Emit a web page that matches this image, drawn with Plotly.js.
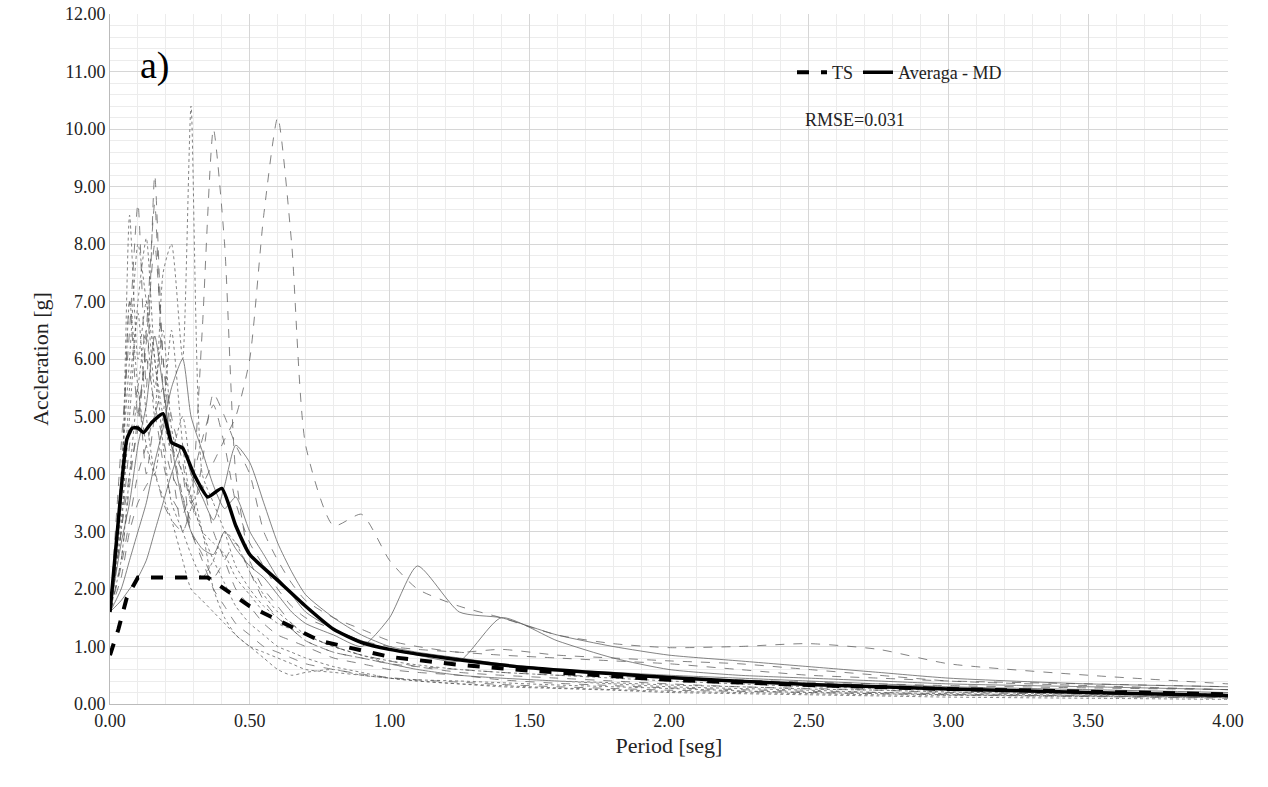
<!DOCTYPE html>
<html>
<head>
<meta charset="utf-8">
<script src="https://cdn.plot.ly/plotly-3.0.1.min.js"></script>
<style>body{margin:0;background:#fff}</style>
</head>
<body>
<div id="chart" style="width:1268px;height:787px"></div>
<script>
// shared period grid for the individual records
const recT = [0, 0.04, 0.07, 0.1, 0.13, 0.16, 0.19, 0.22, 0.26, 0.29, 0.33, 0.37, 0.41, 0.45, 0.5, 0.55, 0.6, 0.65, 0.7, 0.8, 0.9, 1.0, 1.1, 1.25, 1.4, 1.6, 1.8, 2.0, 2.25, 2.5, 2.75, 3.0, 3.5, 4.0];
const records = [
  [1.6, 3.5, 8.5, 6.0, 7.0, 5.5, 6.5, 4.8, 4.0, 3.6, 3.0, 2.8, 2.6, 2.2, 1.9, 1.6, 1.4, 1.3, 1.2, 1.0, 0.85, 0.7, 0.6, 0.5, 0.45, 0.4, 0.35, 0.3, 0.27, 0.24, 0.2, 0.18, 0.15, 0.12],
  [1.6, 4.5, 6.5, 8.7, 5.5, 9.2, 6.0, 5.0, 4.2, 3.5, 3.8, 3.0, 2.5, 2.0, 1.7, 1.4, 1.2, 1.1, 1.0, 0.8, 0.7, 0.6, 0.55, 0.5, 0.42, 0.36, 0.32, 0.28, 0.25, 0.22, 0.2, 0.17, 0.14, 0.11],
  [1.6, 2.5, 4.0, 5.5, 6.5, 5.0, 7.5, 8.0, 6.0, 10.4, 4.0, 3.5, 3.0, 2.4, 2.0, 1.7, 1.5, 1.3, 1.1, 0.9, 0.8, 0.7, 0.6, 0.5, 0.45, 0.4, 0.37, 0.33, 0.3, 0.26, 0.24, 0.21, 0.17, 0.13],
  [1.6, 3.0, 4.5, 5.5, 4.0, 5.0, 5.5, 4.2, 3.0, 3.5, 6.5, 10.0, 8.0, 4.0, 2.5, 2.0, 1.7, 1.4, 1.2, 1.0, 0.85, 0.75, 0.65, 0.55, 0.5, 0.45, 0.4, 0.35, 0.3, 0.27, 0.24, 0.2, 0.17, 0.14],
  [1.6, 2.2, 3.0, 3.5, 3.8, 4.0, 3.5, 3.2, 3.0, 3.4, 3.8, 4.2, 4.6, 5.0, 6.0, 8.5, 10.2, 8.0, 4.5, 3.1, 3.3, 2.5, 2.0, 1.7, 1.5, 1.2, 1.05, 0.98, 1.0, 1.05, 0.95, 0.7, 0.5, 0.35],
  [1.6, 3.2, 5.0, 7.0, 8.1, 6.0, 5.0, 4.4, 5.0, 4.0, 3.0, 2.5, 2.1, 1.7, 1.4, 1.2, 1.0, 0.9, 0.8, 0.65, 0.55, 0.45, 0.4, 0.35, 0.3, 0.27, 0.24, 0.2, 0.18, 0.16, 0.14, 0.12, 0.1, 0.08],
  [1.6, 3.8, 7.0, 5.0, 6.5, 8.7, 5.5, 4.5, 4.0, 3.0, 2.6, 2.2, 2.5, 2.8, 2.3, 1.8, 1.5, 1.3, 1.1, 0.9, 0.8, 0.7, 0.65, 0.6, 0.55, 0.5, 0.48, 0.45, 0.42, 0.38, 0.35, 0.32, 0.28, 0.25],
  [1.6, 2.8, 3.5, 4.5, 5.2, 6.4, 5.5, 4.5, 3.5, 3.0, 2.7, 2.6, 3.0, 2.7, 2.4, 2.2, 1.9, 1.6, 1.4, 1.2, 1.0, 1.5, 2.4, 1.6, 1.5, 1.2, 1.0, 0.85, 0.75, 0.65, 0.55, 0.45, 0.35, 0.3],
  [1.6, 3.0, 5.5, 6.8, 5.0, 4.0, 3.6, 3.2, 2.5, 2.0, 1.8, 1.6, 1.4, 1.2, 1.0, 0.9, 0.8, 0.7, 0.6, 0.55, 0.5, 0.45, 0.42, 0.4, 0.37, 0.33, 0.3, 0.27, 0.23, 0.2, 0.18, 0.16, 0.14, 0.12],
  [1.6, 2.5, 3.8, 5.0, 6.0, 5.2, 4.6, 4.0, 3.6, 3.2, 4.2, 5.4, 5.0, 4.5, 4.0, 3.0, 2.5, 2.1, 1.8, 1.5, 1.3, 1.1, 1.0, 0.9, 0.95, 0.85, 0.8, 0.75, 0.7, 0.6, 0.5, 0.4, 0.32, 0.25],
  [1.6, 2.0, 2.5, 3.0, 3.5, 4.2, 4.8, 5.5, 6.0, 5.0, 4.4, 3.8, 3.4, 3.6, 3.0, 2.6, 2.2, 1.9, 1.6, 1.3, 1.1, 0.95, 0.85, 0.75, 1.5, 1.1, 0.8, 0.6, 0.5, 0.45, 0.4, 0.35, 0.3, 0.25],
  [1.6, 3.5, 7.0, 5.5, 4.5, 4.0, 5.0, 6.5, 4.5, 3.5, 3.0, 2.0, 1.5, 1.2, 1.0, 0.8, 0.6, 0.5, 0.55, 0.6, 0.5, 0.45, 0.4, 0.35, 0.32, 0.28, 0.25, 0.22, 0.2, 0.18, 0.16, 0.15, 0.13, 0.11],
  [1.6, 2.4, 3.2, 4.0, 4.5, 5.0, 4.2, 3.6, 3.3, 3.8, 4.6, 5.2, 4.5, 3.5, 2.8, 2.4, 2.0, 1.7, 1.5, 1.3, 1.1, 1.0, 0.95, 0.9, 0.85, 0.8, 0.75, 0.7, 0.6, 0.5, 0.45, 0.4, 0.35, 0.3],
  [1.6, 4.0, 6.0, 8.0, 7.0, 6.0, 4.5, 3.5, 3.0, 2.6, 2.2, 2.5, 3.0, 2.8, 2.3, 1.9, 1.6, 1.4, 1.2, 1.0, 0.85, 0.75, 0.68, 0.6, 0.55, 0.5, 0.45, 0.4, 0.35, 0.3, 0.27, 0.24, 0.2, 0.17],
  [1.6, 1.8, 2.0, 2.2, 2.5, 3.0, 3.5, 4.0, 4.5, 4.0, 3.6, 3.2, 3.8, 4.5, 4.2, 3.5, 2.8, 2.3, 1.9, 1.5, 1.2, 1.0, 0.9, 0.8, 0.7, 0.6, 0.55, 0.5, 0.45, 0.4, 0.35, 0.3, 0.25, 0.2],
  [1.6, 3.0, 4.0, 4.8, 6.3, 8.0, 6.0, 4.6, 3.6, 3.0, 2.5, 2.0, 1.7, 1.4, 1.2, 1.0, 0.9, 0.8, 0.7, 0.6, 0.52, 0.46, 0.42, 0.38, 0.34, 0.3, 0.27, 0.24, 0.22, 0.2, 0.18, 0.16, 0.13, 0.1]
];
const recDash = ['dot', 'dash', 'dot', 'dash', 'dash', 'dot', 'dash', 'solid', 'dot', 'dash', 'solid', 'dot', 'dash', 'dot', 'solid', 'dash'];

const tsT = [0, 0.03, 0.06, 0.1, 0.35, 0.5, 0.75, 1.0, 1.25, 1.5, 2.0, 2.5, 3.0, 3.5, 4.0];
const tsA = [0.85, 1.3, 1.85, 2.2, 2.2, 1.7, 1.1, 0.82, 0.68, 0.58, 0.42, 0.33, 0.26, 0.21, 0.17];

const mdT = [0, 0.03, 0.06, 0.08, 0.1, 0.12, 0.15, 0.19, 0.22, 0.26, 0.3, 0.35, 0.4, 0.45, 0.5, 0.6, 0.7, 0.8, 0.9, 1.0, 1.2, 1.5, 2.0, 2.5, 3.0, 3.5, 4.0];
const mdA = [1.6, 3.2, 4.6, 4.8, 4.8, 4.72, 4.9, 5.05, 4.55, 4.45, 4.0, 3.6, 3.75, 3.1, 2.6, 2.15, 1.7, 1.3, 1.07, 0.95, 0.8, 0.63, 0.46, 0.34, 0.26, 0.2, 0.15];

const traces = records.map((r, i) => ({
  x: recT, y: r, mode: 'lines', showlegend: false, hoverinfo: 'skip',
  line: {color: 'rgba(90,90,90,0.75)', width: 1, dash: recDash[i], shape: 'spline', smoothing: 0.6}
}));
traces.push({x: tsT, y: tsA, mode: 'lines', name: 'TS',
  line: {color: '#000', width: 4, dash: 'dash'}});
traces.push({x: mdT, y: mdA, mode: 'lines', name: 'Averaga - MD',
  line: {color: '#000', width: 3.5, shape: 'spline', smoothing: 0.5}});

const grid = {showgrid: true, gridcolor: '#d6d6d6', gridwidth: 1};
const layout = {
  width: 1268, height: 787,
  margin: {l: 110, r: 40, t: 14, b: 83},
  paper_bgcolor: '#fff', plot_bgcolor: '#fff',
  font: {family: 'Liberation Serif', size: 18, color: '#222'},
  xaxis: Object.assign({range: [0, 4], dtick: 0.5, tickformat: '.2f', zeroline: false,
    showline: true, linecolor: '#bbb', ticks: '', title: {text: 'Period [seg]', standoff: 8},
    minor: {dtick: 0.1, showgrid: true, gridcolor: '#ececec'}}, grid),
  yaxis: Object.assign({range: [0, 12], dtick: 1, tickformat: '.2f', zeroline: false,
    showline: true, linecolor: '#bbb', ticks: '', title: {text: 'Accleration [g]', standoff: 10},
    minor: {dtick: 0.2, showgrid: true, gridcolor: '#ececec'}}, grid),
  showlegend: true,
  legend: {orientation: 'h', x: 0.61, y: 0.915, xanchor: 'left', yanchor: 'middle',
    bgcolor: 'rgba(0,0,0,0)', font: {size: 18, color: '#222'}},
  annotations: [
    {x: 0.1, y: 11.1, text: 'a)', showarrow: false, font: {size: 38, color: '#000'}, xanchor: 'left'},
    {x: 2.48, y: 10.15, text: 'RMSE=0.031', showarrow: false, font: {size: 18, color: '#222'}, xanchor: 'left'}
  ]
};
Plotly.newPlot('chart', traces, layout, {staticPlot: true});
</script>
</body>
</html>
